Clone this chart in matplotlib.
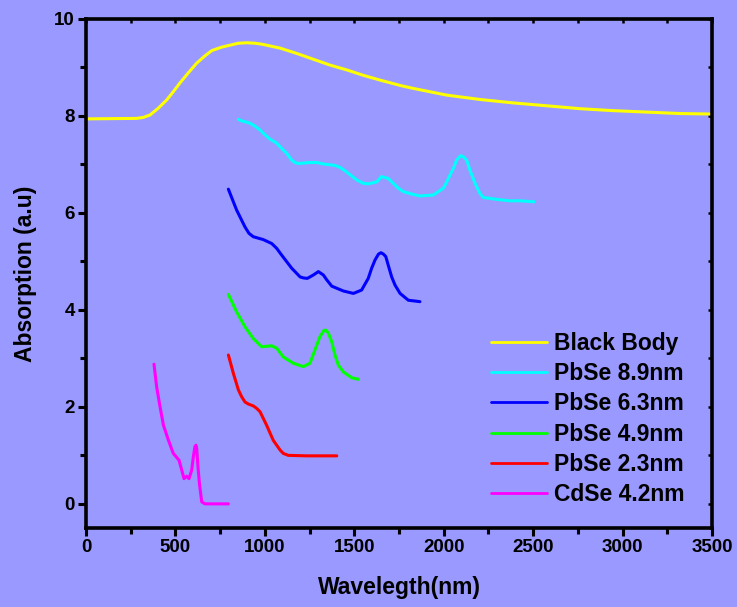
import matplotlib
matplotlib.use("Agg")
import matplotlib.pyplot as plt
from matplotlib.ticker import MultipleLocator

# Black body curve
bb_x = [4, 283, 320, 358, 404, 451, 488, 525, 572, 619, 665, 704, 759, 805, 852, 898, 945,
        984, 1085, 1178, 1271, 1364, 1458, 1549, 1644, 1756, 1828, 2017, 2203, 2387, 2576,
        2762, 2946, 3135, 3321, 3498]
bb_y = [7.94, 7.95, 7.97, 8.02, 8.16, 8.33, 8.50, 8.68, 8.89, 9.09, 9.24, 9.35, 9.42, 9.46,
        9.50, 9.51, 9.50, 9.48, 9.40, 9.29, 9.17, 9.05, 8.95, 8.84, 8.74, 8.63, 8.57, 8.43,
        8.34, 8.27, 8.21, 8.15, 8.11, 8.08, 8.05, 8.04]

# PbSe 8.9nm
p89_x = [852, 870, 917, 945, 973, 1001, 1029, 1066, 1094, 1122, 1150, 1168, 1187, 1252,
         1290, 1327, 1392, 1420, 1448, 1486, 1514, 1551, 1578, 1625, 1653, 1672, 1690, 1718,
         1746, 1774, 1821, 1867, 1942, 1998, 2017, 2035, 2054, 2072, 2095, 2109, 2128, 2147,
         2175, 2203, 2221, 2296, 2371, 2427, 2505]
p89_y = [7.93, 7.90, 7.85, 7.79, 7.71, 7.61, 7.52, 7.44, 7.33, 7.23, 7.09, 7.04, 7.02, 7.04,
         7.04, 7.01, 6.98, 6.94, 6.87, 6.76, 6.68, 6.61, 6.60, 6.64, 6.75, 6.73, 6.71, 6.61,
         6.51, 6.44, 6.39, 6.35, 6.37, 6.51, 6.64, 6.78, 6.92, 7.09, 7.18, 7.16, 7.09, 6.88,
         6.61, 6.40, 6.32, 6.28, 6.25, 6.25, 6.23]

# PbSe 6.3nm
p63_x = [796, 842, 889, 911, 935, 963, 991, 1038, 1066, 1094, 1150, 1197, 1215, 1237, 1252,
         1271, 1299, 1327, 1346, 1374, 1439, 1495, 1541, 1578, 1597, 1616, 1635, 1649, 1663,
         1676, 1690, 1709, 1728, 1756, 1802, 1867]
p63_y = [6.49, 6.06, 5.71, 5.58, 5.51, 5.48, 5.45, 5.37, 5.27, 5.13, 4.86, 4.68, 4.66, 4.65,
         4.68, 4.72, 4.79, 4.72, 4.62, 4.49, 4.39, 4.34, 4.41, 4.65, 4.86, 5.03, 5.15, 5.18,
         5.15, 5.10, 4.92, 4.68, 4.51, 4.34, 4.20, 4.17]

# PbSe 4.9nm
p49_x = [796, 842, 889, 935, 982, 1010, 1038, 1066, 1103, 1159, 1215, 1252, 1290, 1308,
         1331, 1342, 1355, 1374, 1392, 1411, 1439, 1486, 1523]
p49_y = [4.32, 3.96, 3.65, 3.41, 3.24, 3.25, 3.26, 3.21, 3.03, 2.90, 2.83, 2.90, 3.27, 3.45,
         3.58, 3.58, 3.52, 3.34, 3.07, 2.86, 2.72, 2.60, 2.57]

# PbSe 2.3nm
p23_x = [796, 824, 852, 870, 889, 907, 935, 954, 973, 1010, 1029, 1047, 1085, 1103, 1131,
         1234, 1402]
p23_y = [3.07, 2.69, 2.35, 2.21, 2.10, 2.06, 2.02, 1.97, 1.90, 1.62, 1.46, 1.31, 1.11, 1.04,
         1.00, 0.99, 0.99]

# CdSe 4.2nm
cd_x = [380, 395, 414, 433, 461, 488, 520, 535, 548, 563, 576, 591, 600, 609, 615, 619,
        626, 634, 647, 665, 796]
cd_y = [2.88, 2.41, 2.00, 1.62, 1.31, 1.04, 0.90, 0.70, 0.52, 0.57, 0.52, 0.70, 0.97, 1.18,
        1.21, 1.14, 0.76, 0.42, 0.04, 0.00, 0.00]

series = [
    ("Black Body", bb_x, bb_y, "#FFFF00"),
    ("PbSe 8.9nm", p89_x, p89_y, "#00FFFF"),
    ("PbSe 6.3nm", p63_x, p63_y, "#0000FF"),
    ("PbSe 4.9nm", p49_x, p49_y, "#00FF00"),
    ("PbSe 2.3nm", p23_x, p23_y, "#FF0000"),
    ("CdSe 4.2nm", cd_x, cd_y, "#FF00FF"),
]

bg = "#9999FF"
plt.rcParams['font.family'] = ['Liberation Sans', 'DejaVu Sans']
plt.rcParams['font.weight'] = 'bold'

fig = plt.figure(figsize=(7.37, 6.07), dpi=100, facecolor=bg)
ax = fig.add_axes([0.1167, 0.130, 0.8494, 0.8387], facecolor=bg)

for name, xs, ys, col in series:
    ax.plot(xs, ys, color=col, lw=2.2, label=name,
            solid_joinstyle='round', solid_capstyle='round')

ax.set_xlim(0, 3500)
ax.set_ylim(-0.5, 10)
ax.xaxis.set_major_locator(MultipleLocator(500))
ax.xaxis.set_minor_locator(MultipleLocator(250))
ax.yaxis.set_major_locator(MultipleLocator(2))
ax.yaxis.set_minor_locator(MultipleLocator(1))

for sp in ax.spines.values():
    sp.set_linewidth(2.6)

ax.tick_params(which='major', direction='out', length=6, width=2.2, labelsize=13.5, pad=2)
ax.tick_params(which='minor', direction='out', length=4, width=2.2)
for lab in ax.get_xticklabels() + ax.get_yticklabels():
    lab.set_fontweight('bold')

# inward ticks on the top and right frame
top = ax.secondary_xaxis('top')
top.set_xticks(range(0, 3501, 250))
top.tick_params(direction='in', length=3, width=1.8, labeltop=False)
right = ax.secondary_yaxis('right')
right.set_yticks(range(0, 11))
right.tick_params(direction='in', length=3, width=1.8, labelright=False)

ax.set_xlabel("Wavelegth(nm)", fontsize=16.5, fontweight='bold', labelpad=14)
ax.set_ylabel("Absorption (a.u)", fontsize=16.5, fontweight='bold', labelpad=12)

leg = ax.legend(loc='upper left', bbox_to_anchor=(0.647, 0.386), frameon=False,
                prop={'size': 16.5, 'weight': 'bold'}, handlelength=2.45,
                handletextpad=0.3, labelspacing=0.32, borderpad=0, borderaxespad=0)
for h in leg.get_lines():
    h.set_linewidth(2.0)

fig.savefig("out.png", dpi=100, facecolor=bg)
